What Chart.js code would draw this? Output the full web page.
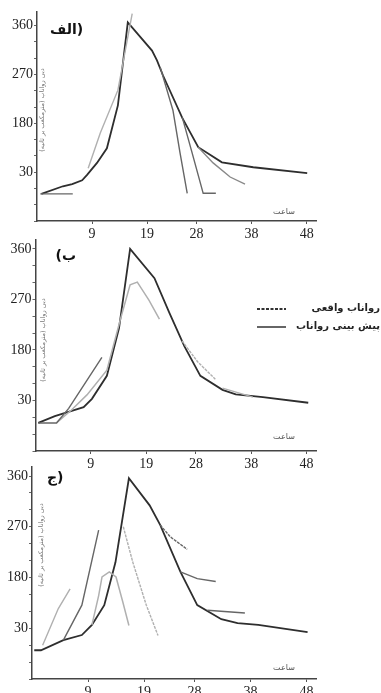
<!DOCTYPE html>
<html>
<head>
<meta charset="utf-8">
<script src="https://cdn.jsdelivr.net/npm/chart.js@4.4.1/dist/chart.umd.min.js"></script>
<style>
  body { margin: 0; background: #fff; width: 381px; height: 693px; position: relative; overflow: hidden; }
  canvas { position: absolute; left: 0; }
</style>
</head>
<body>
<canvas id="c1" width="381" height="245" style="top:0"></canvas>
<canvas id="c2" width="381" height="245" style="top:231px"></canvas>
<canvas id="c3" width="381" height="231" style="top:462px"></canvas>
<script>
// axis labels
const xTicks = [9, 19, 28, 38, 48];
const yTickValues = [90, 180, 270, 360];
const yTickLabels = ['30', '180', '270', '360'];
const panelTitles = ['الف)', '(ب', 'ج)'];
const legendLabels = ['رواناب واقعی', 'پیش بینی رواناب'];
const xTitle = 'ساعت';
const yTitle = 'دبی رواناب (مترمکعب بر ثانیه)';

// panel الف : [hour, flow]
const a_observed = [[-0.2,50],[3.7,64],[5.4,68],[7.2,75],[8.1,85],[9.9,107],[11.7,134],[13.7,213],[15.5,366],
  [19.9,314],[20.8,296],[21.9,268],[25.4,190],[28.3,136],[32.6,108],[38.3,99],[48.1,88]];
const a_base = [[-0.4,50],[5.5,50]];
const a_rise = [[8.3,97],[10.5,162],[13.7,241],[16.3,382]];
const a_fall1 = [[21.4,283],[23.7,204],[25.0,125],[26.3,51]];
const a_fall2 = [[25.4,191],[27.2,125],[29.2,51],[31.5,51]];
const a_fall3 = [[28.3,136],[31.0,107],[34.1,81],[36.8,68]];

// panel ب
const b_observed = [[-0.5,50],[2.5,62],[7.7,78],[9.2,93],[11.9,134],[14.1,219],[16.1,360],[20.5,308],
  [23.2,246],[25.9,187],[28.8,134],[32.8,109],[35.2,101],[40.1,96],[48.3,86]];
const b_fore1 = [[-0.5,50],[2.8,50],[5.0,76],[11.0,167]];
const b_fore2 = [[2.8,50],[5.5,73],[8.3,100],[11.9,144],[14.3,233],[16.1,296],[17.4,301],[19.5,269],[21.4,235]];
const b_fore3 = [[25.5,196],[28.3,159],[31.5,128]];
const b_fore4 = [[32.8,112],[38.3,96]];

// panel ج
const c_observed = [[-0.6,51],[0.6,51],[4.6,69],[7.9,78],[9.7,96],[11.9,131],[13.9,207],[16.3,356],[20.0,308],
  [21.9,273],[25.5,190],[28.5,131],[32.8,106],[35.7,99],[39.4,96],[48.2,83]];
const c_fore1 = [[0.9,60],[3.7,125],[5.8,160]];
const c_fore2 = [[4.6,69],[7.9,131],[10.9,264]];
const c_fore3 = [[9.7,96],[10.9,148],[11.5,181],[12.8,190],[14.0,181],[15.2,137],[16.3,95]];
const c_fore4 = [[15.3,270],[17.0,207],[19.4,131],[21.5,77]];
const c_fore5 = [[21.9,273],[23.7,252],[26.7,230]];
const c_fore6 = [[25.5,190],[28.5,178],[31.8,173]];
const c_fore7 = [[30.3,122],[37.0,117]];

const DARK = '#2e2e2e', MID = '#666', LIGHT = '#b0b0b0';

function line(pts, color, width, dash) {
  return {
    data: pts.map(([x, y]) => ({ x, y })),
    borderColor: color,
    borderWidth: width,
    borderDash: dash || [],
    pointRadius: 0,
    tension: 0,
    fill: false
  };
}

// titles, axis names and legend drawn on the canvas
const annotPlugin = {
  id: 'annot',
  afterDraw(chart, args, o) {
    if (!o.title) return;
    const ctx = chart.ctx, a = chart.chartArea;
    ctx.save();
    ctx.fillStyle = '#111';
    ctx.textBaseline = 'middle';
    ctx.font = 'bold 14px "DejaVu Sans"';
    ctx.textAlign = 'left';
    ctx.fillText(o.title, a.left + o.titleDx, a.top + o.titleDy);

    ctx.font = '8px "DejaVu Sans"';
    ctx.fillStyle = '#555';
    ctx.textAlign = 'center';
    ctx.fillText(xTitle, a.right - 32, a.bottom - o.xTitleDy);

    ctx.save();
    ctx.translate(a.left + o.yTitleDx, a.top + o.yTitleDy);
    ctx.rotate(-Math.PI / 2);
    ctx.font = '6.5px "DejaVu Sans"';
    ctx.fillStyle = '#777';
    ctx.fillText(yTitle, 0, 0);
    ctx.restore();

    if (o.legend) {
      ctx.font = 'bold 10px "DejaVu Sans"';
      ctx.fillStyle = '#222';
      ctx.textAlign = 'right';
      legendLabels.forEach((lab, i) => {
        const y = 78 + i * 18;
        ctx.strokeStyle = '#333';
        ctx.lineWidth = i === 0 ? 2 : 1.5;
        ctx.setLineDash(i === 0 ? [3, 1.5] : []);
        ctx.beginPath();
        ctx.moveTo(257, y);
        ctx.lineTo(286, y);
        ctx.stroke();
        ctx.fillText(lab, 380, y - 1);
      });
    }
    ctx.restore();
  }
};
Chart.register(annotPlugin);

function makeChart(id, datasets, cfg) {
  return new Chart(document.getElementById(id), {
    type: 'line',
    data: { datasets },
    options: {
      responsive: false,
      animation: false,
      layout: { padding: { top: cfg.top, right: 65, left: 0, bottom: 0 } },
      plugins: { legend: { display: false }, tooltip: { enabled: false }, annot: cfg.annot },
      scales: {
        x: {
          type: 'linear', min: -1, max: 49.7,
          afterBuildTicks: s => { s.ticks = xTicks.map(v => ({ value: v })); },
          afterFit: s => { s.height = cfg.xHeight; s.paddingLeft = 0; s.paddingRight = 0; },
          grid: { drawOnChartArea: false, tickLength: 3, color: '#555' },
          border: { color: '#444', width: 1.5 },
          ticks: { font: { family: 'Liberation Serif', size: 14 }, color: '#222', padding: 2, maxRotation: 0, autoSkip: false }
        },
        y: {
          min: 0, max: cfg.yMax,
          afterBuildTicks: s => {
            const t = [];
            for (let v = 0; v <= 360; v += 30) t.push({ value: v });
            s.ticks = t;
          },
          afterFit: s => { s.width = cfg.left; s.paddingTop = 0; s.paddingBottom = 0; },
          grid: { drawOnChartArea: false, tickLength: 3, color: '#666' },
          border: { color: '#444', width: 1.5 },
          ticks: {
            font: { family: 'Liberation Serif', size: 14 }, color: '#222', padding: 1, autoSkip: false,
            callback: v => { const i = yTickValues.indexOf(v); return i >= 0 ? yTickLabels[i] : ''; }
          }
        }
      }
    }
  });
}

makeChart('c1', [
  line(a_base, MID, 1.4),
  line(a_rise, LIGHT, 1.4),
  line(a_fall1, MID, 1.4),
  line(a_fall2, MID, 1.4),
  line(a_fall3, '#888', 1.4),
  line(a_observed, DARK, 1.8)
], { top: 12, left: 37, xHeight: 24, yMax: 385,
     annot: { title: panelTitles[0], titleDx: 13, titleDy: 18, xTitleDy: 9, yTitleDx: 5, yTitleDy: 98 } });

makeChart('c2', [
  line(b_fore1, MID, 1.4),
  line(b_fore2, LIGHT, 1.5),
  line(b_fore3, LIGHT, 1.4, [3, 1]),
  line(b_fore4, LIGHT, 1.4),
  line(b_observed, DARK, 1.8)
], { top: 9, left: 35.5, xHeight: 25, yMax: 376,
     annot: { title: panelTitles[1], titleDx: 20, titleDy: 16, xTitleDy: 14, yTitleDx: 7.5, yTitleDy: 100, legend: true } });

makeChart('c3', [
  line(c_fore1, LIGHT, 1.4),
  line(c_fore2, MID, 1.4),
  line(c_fore3, LIGHT, 1.5),
  line(c_fore4, LIGHT, 1.4, [3, 1]),
  line(c_fore5, MID, 1.4, [3, 1]),
  line(c_fore6, MID, 1.4),
  line(c_fore7, MID, 1.4),
  line(c_observed, DARK, 1.8)
], { top: 5, left: 32, xHeight: 14, yMax: 376,
     annot: { title: panelTitles[2], titleDx: 15, titleDy: 11, xTitleDy: 11, yTitleDx: 9, yTitleDy: 78 } });
</script>
</body>
</html>
